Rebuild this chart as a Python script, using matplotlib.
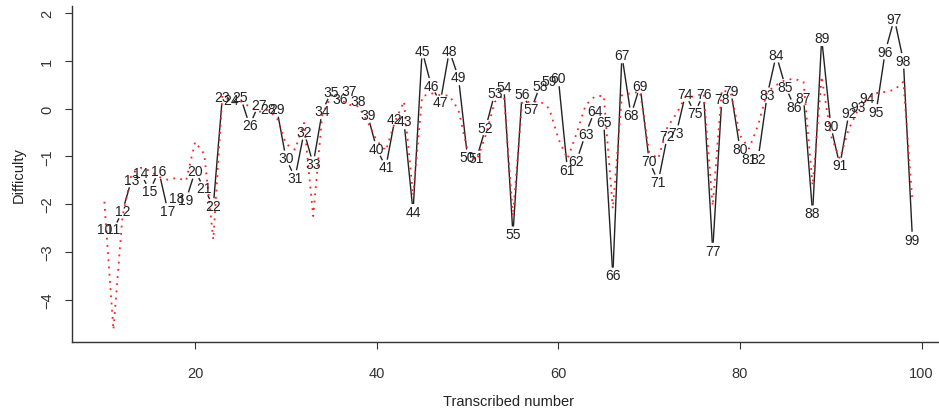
"""
Difficulty per transcribed number: observed estimates (black, labelled)
and model curve (red dotted).
"""

import numpy as np
import matplotlib
matplotlib.use("Agg")
import matplotlib.pyplot as plt

plt.rcParams['font.family'] = ['Liberation Sans', 'DejaVu Sans']

# Numbers 10..99
numbers = list(range(10, 100))

# Observed difficulty (black line with labels)
difficulty = [
    -2.53, -2.53, -2.15, -1.49, -1.35, -1.72, -1.31, -2.14, -1.88, -1.91,
    -1.31, -1.67, -2.04, 0.24, 0.17, 0.24, -0.35, 0.08, 0.00, -0.01,
    -1.04, -1.45, -0.49, -1.16, -0.06, 0.35, 0.21, 0.36, 0.16, -0.14,
    -0.84, -1.23, -0.22, -0.27, -2.16, 1.21, 0.48, 0.13, 1.21, 0.65,
    -1.02, -1.04, -0.40, 0.32, 0.46, -2.63, 0.30, -0.02, 0.48, 0.58,
    0.63, -1.28, -1.10, -0.53, -0.05, -0.28, -3.49, 1.11, -0.14, 0.48,
    -1.10, -1.53, -0.58, -0.51, 0.30, -0.09, 0.30, -2.97, 0.19, 0.37,
    -0.84, -1.05, -1.05, 0.28, 1.12, 0.46, 0.04, 0.23, -2.19, 1.47,
    -0.36, -1.19, -0.09, 0.04, 0.23, -0.07, 1.19, 1.88, 1.00, -2.74,
]

# Model difficulty (red dotted line)
model = [
    -1.95, -4.63, -2.25, -1.37, -1.24, -1.30, -1.43, -1.49, -1.45, -1.51,
    -0.70, -0.95, -2.74, 0.27, 0.15, 0.15, 0.04, -0.07, -0.03, -0.19,
    -0.74, -0.86, -0.30, -2.25, -0.14, 0.28, 0.18, 0.08, 0.04, -0.28,
    -0.67, -0.88, -0.28, 0.15, -1.82, 0.25, 0.32, 0.28, 0.27, -0.03,
    -0.88, -1.09, -0.56, 0.14, 0.28, -2.25, 0.14, 0.14, 0.15, 0.00,
    -0.63, -1.05, -0.53, 0.07, 0.25, 0.27, -2.10, 0.28, 0.32, 0.35,
    -0.91, -1.05, -0.39, -0.11, 0.25, 0.25, 0.32, -2.04, 0.39, 0.32,
    -0.56, -0.84, -0.35, 0.35, 0.49, 0.60, 0.62, 0.56, -1.61, 0.67,
    -0.56, -1.05, -0.42, -0.03, 0.21, 0.32, 0.35, 0.39, 0.56, -1.96,
]

x_ticks = [20, 40, 60, 80, 100]
y_ticks = [-4, -3, -2, -1, 0, 1, 2]

W, H = 939, 410
fig = plt.figure(figsize=(W / 100, H / 100), dpi=100)
# plot region placed like the R device (right edge runs past the picture)
ax = fig.add_axes([72 / W, (H - 343.3) / H, 872.8 / W, 336.3 / H])
ax.set_xlim(6.44, 102.56)
ax.set_ylim(-4.89, 2.145)

ink = '#222222'


def gapped_line(ax, xs, ys, gap_px=8.5, **kw):
    # like R type="b": segments stop short of each point, leaving room for the label
    pts = ax.transData.transform(np.column_stack([xs, ys]))
    inv = ax.transData.inverted()
    for p0, p1 in zip(pts[:-1], pts[1:]):
        d = p1 - p0
        length = np.hypot(*d)
        if length <= 2 * gap_px:
            continue
        u = d / length
        a = inv.transform(p0 + u * gap_px)
        b = inv.transform(p1 - u * gap_px)
        ax.plot([a[0], b[0]], [a[1], b[1]], **kw)


gapped_line(ax, numbers, difficulty, color=ink, lw=1.0)
for n, d in zip(numbers, difficulty):
    ax.text(n, d, str(n), ha='center', va='center', fontsize=10, color=ink)

ax.plot(numbers, model, color='#ff2020', lw=1.3, linestyle=(0, (1, 3)))

# R style axes: L box, outward ticks, vertical y tick labels
for side in ('top', 'right'):
    ax.spines[side].set_visible(False)
for side in ('left', 'bottom'):
    ax.spines[side].set_color('#333333')
    ax.spines[side].set_linewidth(1.0)
ax.set_xticks(x_ticks)
ax.set_yticks(y_ticks)
ax.set_yticklabels([str(v).replace('-', '\u2212') for v in y_ticks],
                   rotation=90, va='center')
ax.tick_params(direction='out', length=5, width=0.8, colors='#333333',
               labelsize=10.5, pad=8)
ax.tick_params(axis='x', pad=12)
ax.set_xlabel('Transcribed number', fontsize=10.5, color=ink, labelpad=10)
ax.set_ylabel('Difficulty', fontsize=10.5, color=ink, labelpad=10)

fig.savefig('out.png', dpi=100)
